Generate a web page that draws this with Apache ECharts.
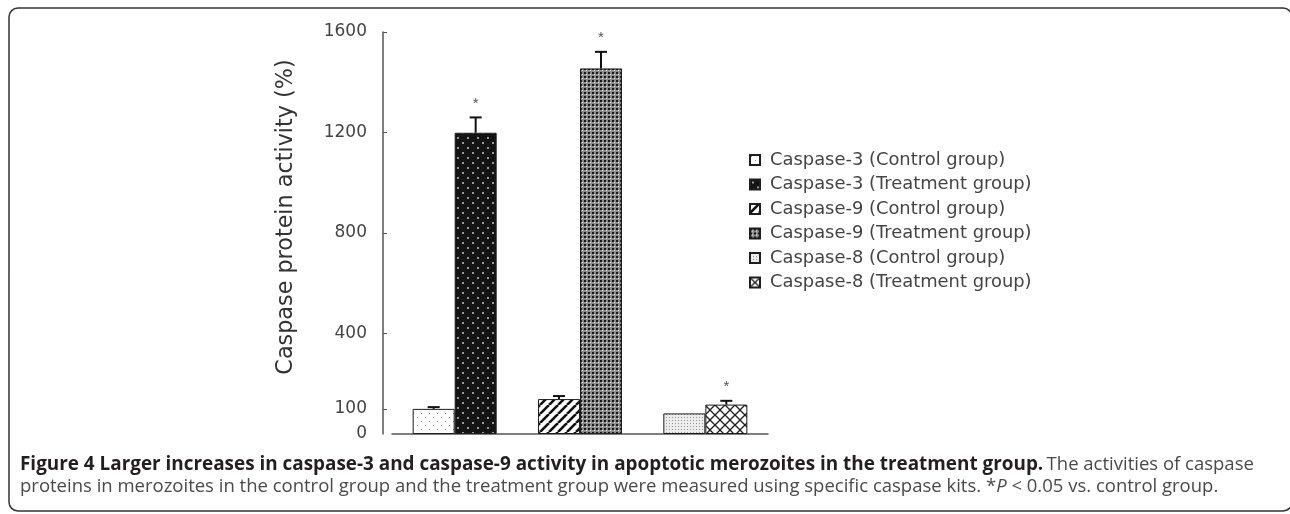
<!DOCTYPE html>
<html>
<head>
<meta charset="utf-8">
<script src="https://cdn.jsdelivr.net/npm/echarts@6/dist/echarts.min.js"></script>
<style>
  html, body { margin: 0; padding: 0; background: #fff; }
  #chart { width: 1290px; height: 514px; }
</style>
</head>
<body>
<div id="chart"></div>
<script>
//----- data
var groups = ['Caspase-3', 'Caspase-9', 'Caspase-8'];
var seriesNames = [
    'Caspase-3 (Control group)', 'Caspase-3 (Treatment group)',
    'Caspase-9 (Control group)', 'Caspase-9 (Treatment group)',
    'Caspase-8 (Control group)', 'Caspase-8 (Treatment group)'
];
var controlValues = [100, 139, 82];
var treatmentValues = [1199, 1455, 117];
var controlErr = [7, 12, 0];
var treatmentErr = [61, 66, 15];
var significant = [true, true, true];   // * P < 0.05 vs control
var yTicks = [0, 100, 400, 800, 1200, 1600];

//----- fill patterns
function pattern(size, bg, draw) {
    var c = document.createElement('canvas');
    c.width = c.height = size;
    var ctx = c.getContext('2d');
    ctx.fillStyle = bg;
    ctx.fillRect(0, 0, size, size);
    draw(ctx, size);
    return { image: c, repeat: 'repeat' };
}
var patterns = [
    pattern(8, '#ffffff', function (ctx) {
        ctx.fillStyle = '#8a8a8a';
        ctx.fillRect(1, 1, 1, 1); ctx.fillRect(5, 5, 1, 1);
    }),
    pattern(10, '#141414', function (ctx) {
        ctx.fillStyle = '#9a9a9a';
        ctx.fillRect(2, 2, 2, 2); ctx.fillRect(7, 7, 2, 2);
    }),
    pattern(9, '#ffffff', function (ctx, s) {
        ctx.strokeStyle = '#111'; ctx.lineWidth = 2.6;
        for (var k = -1; k <= 1; k++) {
            ctx.beginPath(); ctx.moveTo(k * s, s); ctx.lineTo(k * s + s, 0); ctx.stroke();
        }
    }),
    pattern(4, '#8c8c8c', function (ctx) {
        ctx.fillStyle = '#1a1a1a'; ctx.fillRect(0, 0, 2, 2);
        ctx.fillStyle = '#f0f0f0'; ctx.fillRect(2, 2, 1, 1);
    }),
    pattern(3, '#ececec', function (ctx) {
        ctx.fillStyle = '#9a9a9a'; ctx.fillRect(0, 0, 1, 1);
    }),
    pattern(10, '#ffffff', function (ctx, s) {
        ctx.strokeStyle = '#222'; ctx.lineWidth = 1.3;
        for (var k = -1; k <= 1; k++) {
            ctx.beginPath(); ctx.moveTo(k * s, s); ctx.lineTo(k * s + s, 0); ctx.stroke();
            ctx.beginPath(); ctx.moveTo(k * s, 0); ctx.lineTo(k * s + s, s); ctx.stroke();
        }
    })
];

//----- build series: one per legend entry, control/treatment stacks keep two slots per group
var barSeries = seriesNames.map(function (name, i) {
    var g = Math.floor(i / 2), isTreat = i % 2 === 1;
    var data = groups.map(function (_, j) {
        return j === g ? (isTreat ? treatmentValues[j] : controlValues[j]) : null;
    });
    return {
        name: name,
        type: 'bar',
        stack: isTreat ? 'treatment' : 'control',
        barWidth: 42,
        barGap: '0%',
        data: data,
        itemStyle: { color: patterns[i], borderColor: '#1e1e1e', borderWidth: 1 },
        emphasis: { disabled: true }
    };
});

var errData = [];
groups.forEach(function (_, j) {
    errData.push([j, controlValues[j], controlErr[j], 0, 0]);
    errData.push([j, treatmentValues[j], treatmentErr[j], 1, significant[j] ? 1 : 0]);
});

var errorSeries = {
    type: 'custom',
    name: 'err',
    data: errData,
    encode: { x: 0, y: 1 },
    z: 5,
    clip: false,
    renderItem: function (params, api) {
        var side = api.value(3) ? 1 : -1;
        var base = api.coord([api.value(0), api.value(1)]);
        var top = api.coord([api.value(0), api.value(1) + api.value(2)]);
        var x = base[0] + side * 21;
        var children = [];
        if (api.value(2) > 0) {
            children.push({ type: 'line', shape: { x1: x, y1: base[1], x2: x, y2: top[1] },
                style: { stroke: '#111', lineWidth: 2 } });
            children.push({ type: 'line', shape: { x1: x - 6, y1: top[1], x2: x + 6, y2: top[1] },
                style: { stroke: '#111', lineWidth: 2 } });
        }
        if (api.value(4)) {
            children.push({ type: 'text', x: x, y: top[1] - 14,
                style: { text: '*', fill: '#555', font: '15px "Liberation Sans", Arial',
                         align: 'center', verticalAlign: 'middle' } });
        }
        return { type: 'group', children: children };
    }
};

var myChart = echarts.init(document.getElementById('chart'));
var option = {
    animation: false,
    grid: { left: 392, right: 522, top: 32, bottom: 80 },
    legend: {
        orient: 'vertical',
        left: 744,
        top: 146,
        data: seriesNames,
        itemWidth: 10,
        itemHeight: 10,
        itemGap: 6.5,
        selectedMode: false,
        icon: 'rect',
        textStyle: { fontFamily: '"DejaVu Sans"', fontSize: 17.9, color: '#444', lineHeight: 18, padding: [0, 0, 0, 5] }
    },
    xAxis: {
        type: 'category',
        data: groups,
        axisLine: { lineStyle: { color: '#555', width: 1.5 } },
        axisTick: { show: false },
        axisLabel: { show: false },
        splitLine: { show: false }
    },
    yAxis: {
        type: 'value',
        min: 0,
        max: 1600,
        offset: 9,
        name: 'Caspase protein activity (%)',
        nameLocation: 'middle',
        nameGap: 86,
        nameTextStyle: { fontFamily: '"DejaVu Sans"', fontSize: 22.3, color: '#333', padding: [0, 0, 0, 32] },
        axisLine: { show: true, lineStyle: { color: '#555', width: 1.5 } },
        axisTick: { show: true, inside: true, length: 4, customValues: yTicks.slice(1), lineStyle: { color: '#555' } },
        axisLabel: {
            customValues: yTicks, margin: 16, fontFamily: '"DejaVu Sans"', fontSize: 17, color: '#444',
            formatter: function (v) { return String(v); }
        },
        splitLine: { show: false }
    },
    graphic: [{
        type: 'rect',
        shape: { x: 9, y: 8, width: 1283, height: 503, r: 9 },
        style: { fill: null, stroke: '#333', lineWidth: 1.5 },
        silent: true
    }, {
        type: 'text',
        left: 20,
        top: 455,
        style: {
            text: '{b|Figure 4 Larger increases in caspase-3 and caspase-9 activity in apoptotic merozoites in the treatment group.} ' +
                  '{r|The activities of caspase}\n' +
                  '{r|proteins in merozoites in the control group and the treatment group were measured using specific caspase kits. *}{i|P}{r| < 0.05 vs. control group.}',
            rich: {
                b: { fontFamily: '"Open Sans"', fontWeight: 'bold', fontSize: 18.9, fill: '#231f20', lineHeight: 22 },
                r: { fontFamily: '"Open Sans"', fontSize: 18.5, fill: '#4a4a4a', lineHeight: 22 },
                i: { fontFamily: '"Open Sans"', fontStyle: 'italic', fontSize: 18.5, fill: '#4a4a4a', lineHeight: 22 }
            }
        }
    }],
    series: barSeries.concat([errorSeries])
};
if (option && typeof option === "object") {
    myChart.setOption(option, true);
}
</script>
</body>
</html>
